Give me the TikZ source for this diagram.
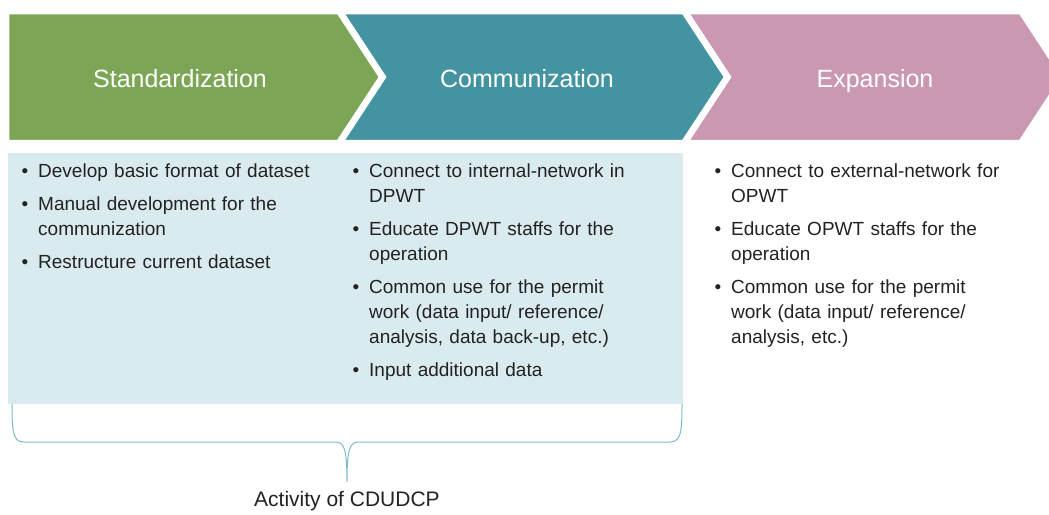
\documentclass[tikz,border=0pt]{standalone}
\usepackage{fontspec}
\setmainfont{Liberation Sans}
\usepackage{xcolor}
\definecolor{stdgreen}{HTML}{7CA655}
\definecolor{comteal}{HTML}{4394A0}
\definecolor{exppink}{HTML}{CB98B2}
\definecolor{boxblue}{HTML}{DAEBEF}
\definecolor{bracecol}{HTML}{7DBCC7}
\definecolor{bodytext}{HTML}{222222}

% one bullet point: bullet hangs left of the indented text
\newcommand{\bitem}[1]{\par\leftskip=16pt\noindent
  \llap{\textbullet\hspace{10pt}}#1\par\vspace{8pt}}

\begin{document}
\begin{tikzpicture}[x=1pt, y=-1pt,
  phase/.style={draw=white, line width=2.5pt, line join=miter},
  phasetitle/.style={anchor=base, text=white, font=\fontsize{25}{29}\selectfont},
  bullets/.style={anchor=north west, inner sep=0pt, text width=330pt,
    align=left, text=bodytext, font=\fontsize{19}{25}\selectfont}]

\useasboundingbox (0,0) rectangle (1049,514);
\clip (0,0) rectangle (1049,514);

%% ------------------------------------------------------------------
%% the three phase chevrons across the top
%% ------------------------------------------------------------------
\fill[stdgreen, phase] (8,13) -- (338,13) -- (380,77) -- (338,141)
  -- (8,141) -- cycle;
\fill[comteal, phase] (343,13) -- (683,13) -- (725,77) -- (683,141)
  -- (343,141) -- (385,77) -- cycle;
\fill[exppink, phase] (688,13) -- (1020,13) -- (1062,77) -- (1020,141)
  -- (688,141) -- (730,77) -- cycle;

% titles share one baseline
\node[phasetitle] (std) at (180,87) {Standardization};
\node[phasetitle] (com) at (527,87) {Communization};
\node[phasetitle] (exp) at (875,87) {Expansion};

%% ------------------------------------------------------------------
%% activities: the first two phases share the shaded box
%% ------------------------------------------------------------------
\fill[boxblue] (8,153) rectangle (683,404);

\node[bullets] (stdlist) at (22,152) {%
  \bitem{Develop basic format of dataset}
  \bitem{Manual development for the\newline communization}
  \bitem{Restructure current dataset}};

\node[bullets] (comlist) at (353,152) {%
  \bitem{Connect to internal-network in\newline DPWT}
  \bitem{Educate DPWT staffs for the\newline operation}
  \bitem{Common use for the permit\newline work (data input/ reference/\newline
    analysis, data back-up, etc.)}
  \bitem{Input additional data}};

\node[bullets] (explist) at (715,152) {%
  \bitem{Connect to external-network for\newline OPWT}
  \bitem{Educate OPWT staffs for the\newline operation}
  \bitem{Common use for the permit\newline work (data input/ reference/\newline
    analysis, etc.)}};

%% ------------------------------------------------------------------
%% brace under the shaded box
%% ------------------------------------------------------------------
\coordinate (bl) at (12,404);
\coordinate (br) at (682,404);
\coordinate (bm) at (347,482);
\draw[bracecol, line width=1pt]
  (bl) .. controls (12,432) and (13,442) .. (24,442) -- (335,442)
  .. controls (344,442) and (347,448) .. (bm)
  .. controls (347,448) and (350,442) .. (359,442) -- (670,442)
  .. controls (681,442) and (682,432) .. (br);

\node[anchor=center, text=bodytext, font=\fontsize{21}{25}\selectfont]
  (act) at (347,501) {Activity of CDUDCP};

\end{tikzpicture}
\end{document}
